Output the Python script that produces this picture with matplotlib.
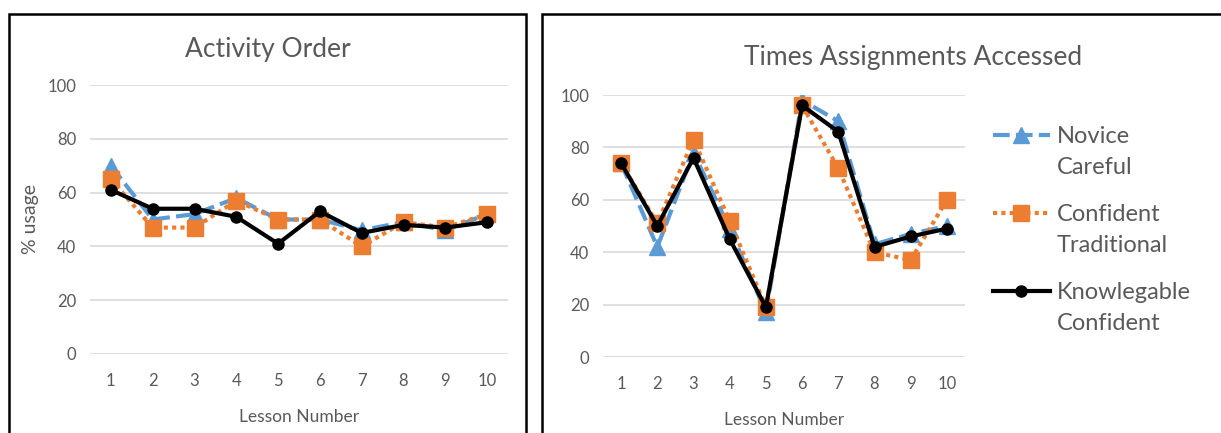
import matplotlib.pyplot as plt
from matplotlib.patches import Rectangle
from matplotlib.lines import Line2D

plt.rcParams['font.family'] = ['Lato', 'DejaVu Sans']

lessons = [1, 2, 3, 4, 5, 6, 7, 8, 9, 10]
series_names = ["Novice\nCareful", "Confident\nTraditional", "Knowlegable\nConfident"]

# Activity Order (% usage)
order_novice = [70, 50, 52, 58, 50, 50, 46, 49, 46, 52]
order_confident = [65, 47, 47, 57, 50, 50, 40, 49, 47, 52]
order_knowledgeable = [61, 54, 54, 51, 41, 53, 45, 48, 47, 49]

# Times Assignments Accessed
access_novice = [74, 42, 78, 49, 17, 98, 90, 43, 47, 50]
access_confident = [74, 51, 83, 52, 19, 96, 72, 40, 37, 60]
access_knowledgeable = [74, 50, 76, 45, 19, 96, 86, 42, 46, 49]

BLUE = "#5B9BD5"
ORANGE = "#ED7D31"
GREY = "#595959"
W, H = 1221, 433

styles = [
    dict(color=BLUE, linewidth=3, linestyle=(0, (4, 1.5)), marker="^", markersize=11),
    dict(color=ORANGE, linewidth=3, linestyle=(0, (1, 1)), marker="s", markersize=11),
    dict(color="black", linewidth=3, linestyle="-", marker="o", markersize=8),
]

fig = plt.figure(figsize=(W / 100, H / 100), dpi=100)

# chart frames
fig.patches.append(Rectangle((9 / W, -0.1), 517 / W, 1.1 - 14 / H,
                             transform=fig.transFigure, fill=False,
                             edgecolor="black", linewidth=1.8))
fig.patches.append(Rectangle((542 / W, -0.1), 0.7, 1.1 - 14 / H,
                             transform=fig.transFigure, fill=False,
                             edgecolor="black", linewidth=1.8))

ax1 = fig.add_axes([90 / W, 79 / H, 418 / W, 269 / H])
ax2 = fig.add_axes([603 / W, 76 / H, 362 / W, 262 / H])


def draw(ax, novice, confident, knowledgeable):
    for values, st in zip([novice, confident, knowledgeable], styles):
        ax.plot(lessons, values, **st)
    ax.set_xlim(0.5, 10.5)
    ax.set_ylim(0, 100)
    ax.set_xticks(lessons)
    ax.set_yticks([0, 20, 40, 60, 80, 100])
    ax.grid(axis="y", color="#D9D9D9", linewidth=1.2)
    ax.set_axisbelow(True)
    for s in ax.spines.values():
        s.set_visible(False)
    ax.tick_params(length=0, labelsize=12, labelcolor=GREY)
    ax.tick_params(axis="x", pad=14)
    ax.tick_params(axis="y", pad=10)
    ax.set_xlabel("Lesson Number", fontsize=12.5, color=GREY, labelpad=14)


draw(ax1, order_novice, order_confident, order_knowledgeable)
draw(ax2, access_novice, access_confident, access_knowledgeable)

ax1.set_ylabel("% usage", fontsize=14, color=GREY, labelpad=6)
fig.text(268 / W, 1 - 50 / H, "Activity Order", fontsize=19, color=GREY,
         ha="center", va="center")
fig.text(913 / W, 1 - 57 / H, "Times Assignments Accessed", fontsize=19,
         color=GREY, ha="center", va="center")

# legend beside the right chart
for i, (name, st) in enumerate(zip(series_names, styles)):
    y = 1 - (135 + 78 * i) / H
    fig.add_artist(Line2D([993 / W, 1050 / W], [y, y], transform=fig.transFigure,
                          color=st["color"], linewidth=st["linewidth"],
                          linestyle=st["linestyle"]))
    fig.add_artist(Line2D([1021 / W], [y], transform=fig.transFigure,
                          color=st["color"], marker=st["marker"],
                          markersize=st["markersize"], linestyle="none"))
    fig.text(1057 / W, y + 9 / H, name, fontsize=17, color=GREY,
             ha="left", va="top", linespacing=1.6)

fig.savefig("out.png", dpi=100)
